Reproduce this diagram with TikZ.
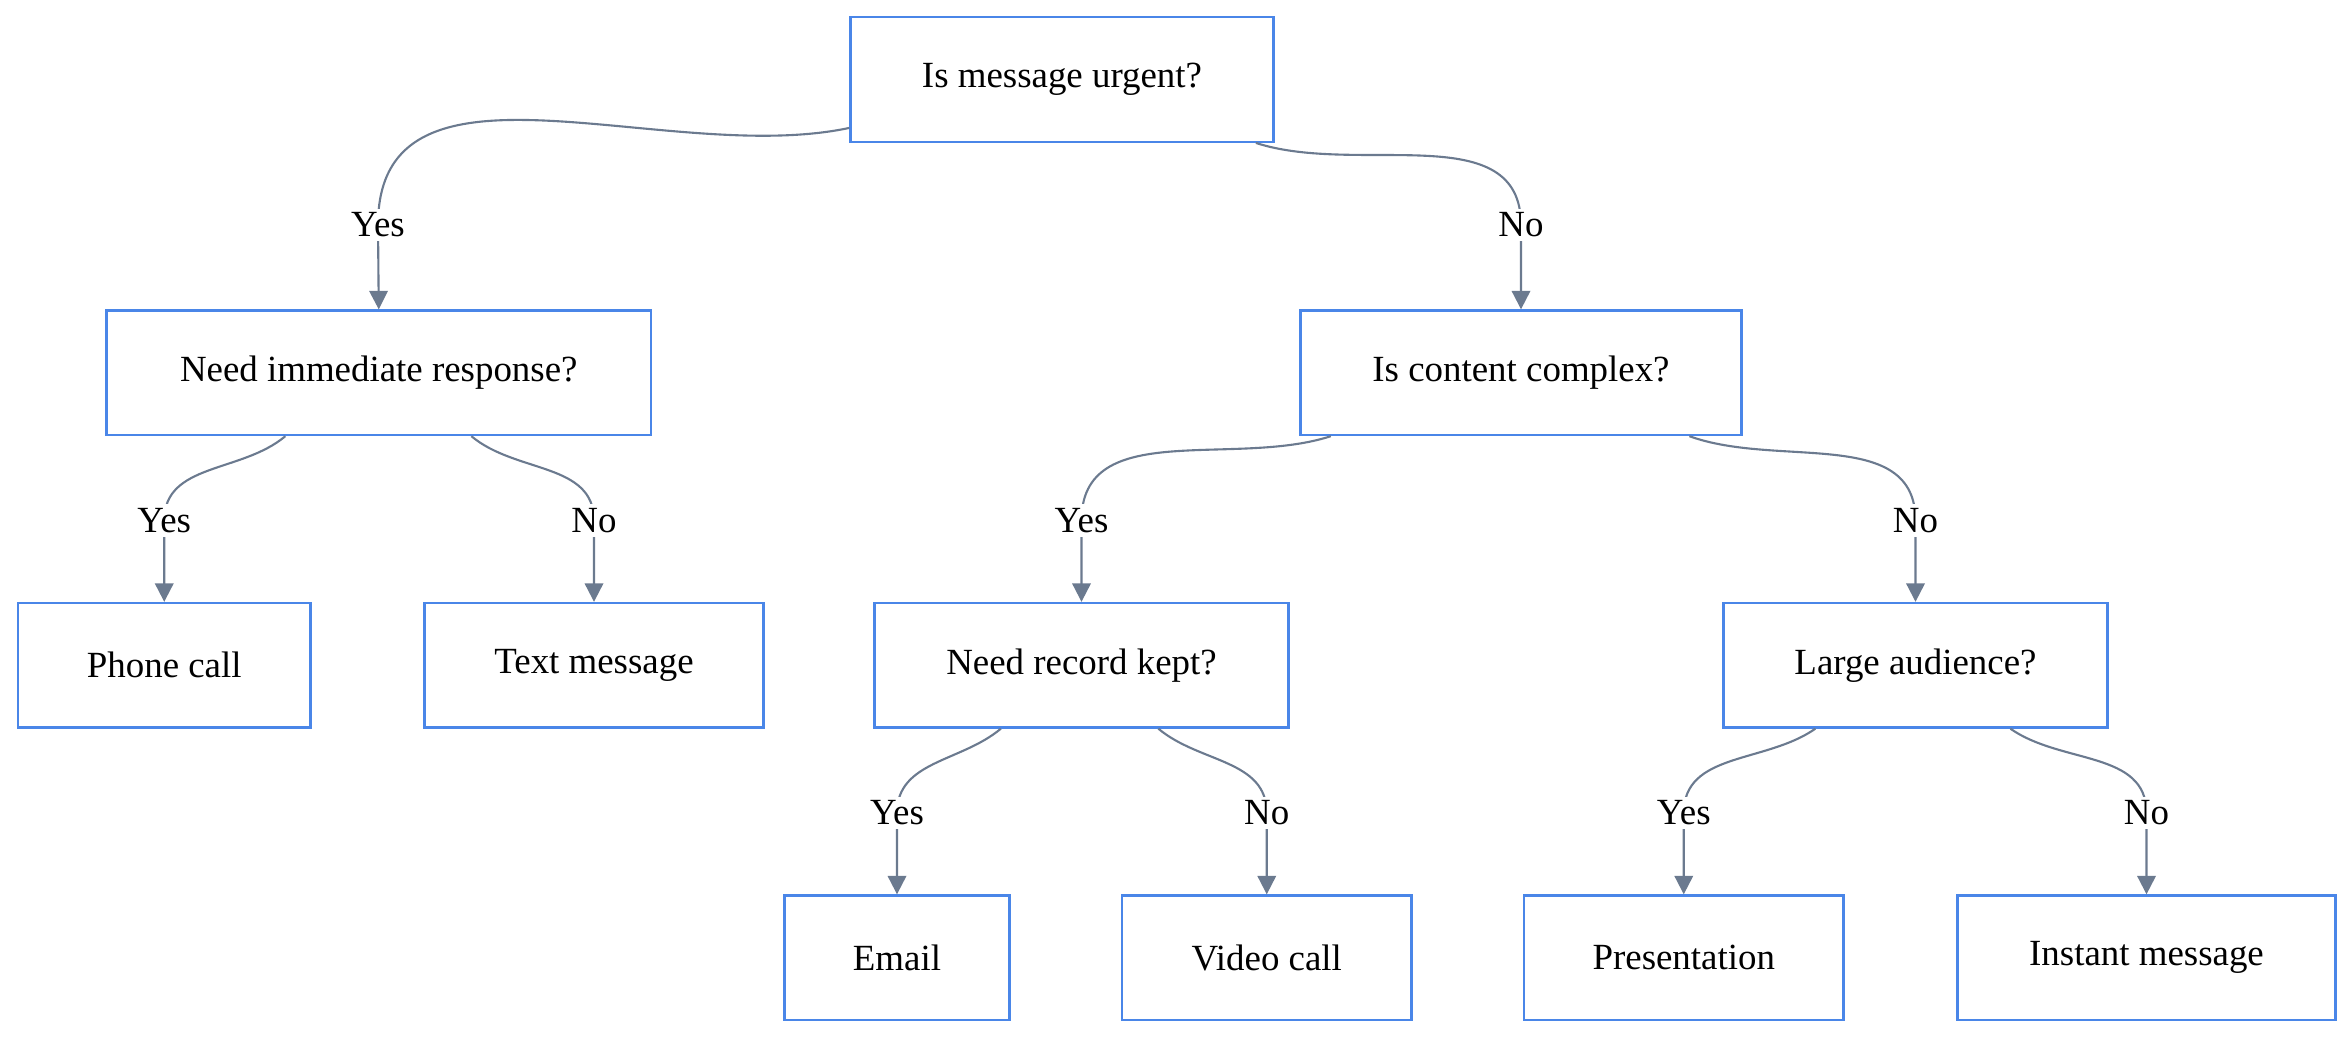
\documentclass[tikz,border=0pt]{standalone}
\usepackage{fontspec}
\setmainfont{Liberation Serif}
\usetikzlibrary{arrows.meta,calc}
\definecolor{boxblue}{HTML}{4A86E8}
\definecolor{edgegray}{HTML}{6B7A8F}
\tikzset{
        % Decision and outcome boxes
        box/.style={draw=boxblue, line width=0.9pt, fill=white, minimum height=1.66cm, font=\fontsize{14}{16}\selectfont},
        % Connectors
        edge/.style={draw=edgegray, line width=0.8pt, -{Triangle[length=7pt,width=7pt]}},
        % Yes / No labels
        lbl/.style={fill=white, inner sep=1.5pt, font=\fontsize{14}{16}\selectfont}
}
\begin{document}
\begin{tikzpicture}[x=0.02cm, y=-0.02cm]
    \useasboundingbox (0,0) rectangle (1568,692);
    % level 0
    \node[box, minimum width=5.64cm] (root) at (708,53) {Is message urgent?};
    % level 1
    \node[box, minimum width=7.26cm] (need) at (252.5,248.5) {Need immediate response?};
    \node[box, minimum width=5.88cm] (complex) at (1014,248.5) {Is content complex?};
    % level 2
    \node[box, minimum width=3.9cm] (phone) at (109.5,443.5) {Phone call};
    \node[box, minimum width=4.52cm] (text) at (396,443.5) {Text message};
    \node[box, minimum width=5.52cm] (record) at (721,443.5) {Need record kept?};
    \node[box, minimum width=5.12cm] (large) at (1277,443.5) {Large audience?};
    % level 3
    \node[box, minimum width=3cm] (email) at (598,638.5) {Email};
    \node[box, minimum width=3.86cm] (video) at (844.5,638.5) {Video call};
    \node[box, minimum width=4.26cm] (pres) at (1122.5,638.5) {Presentation};
    \node[box, minimum width=5.04cm] (instant) at (1431,638.5) {Instant message};

    % connectors
    \coordinate (rootY) at (252,150);
    \coordinate (rootN) at (1014,150);
    \draw[edge] ($(root.south west)+(0,-10)$) to[out=192,in=90] (rootY) node[lbl]{Yes} -- (need.north);
    \draw[edge] ($(root.south west)+(271,0)$) to[out=-18,in=90] (rootN) node[lbl]{No} -- (complex.north);

    \coordinate (needY) at (109.5,347);
    \coordinate (needN) at (396,347);
    \draw[edge] ($(need.south west)+(120,0)$) to[out=-140,in=90] (needY) node[lbl]{Yes} -- (phone.north);
    \draw[edge] ($(need.south west)+(244,0)$) to[out=-40,in=90] (needN) node[lbl]{No} -- (text.north);

    \coordinate (complexY) at (721,347);
    \coordinate (complexN) at (1277,347);
    \draw[edge] ($(complex.south west)+(21,0)$) to[out=-162,in=90] (complexY) node[lbl]{Yes} -- (record.north);
    \draw[edge] ($(complex.south west)+(260,0)$) to[out=-20,in=90] (complexN) node[lbl]{No} -- (large.north);

    \coordinate (recordY) at (598,542);
    \coordinate (recordN) at (844.5,542);
    \draw[edge] ($(record.south west)+(85,0)$) to[out=-140,in=90] (recordY) node[lbl]{Yes} -- (email.north);
    \draw[edge] ($(record.south west)+(190,0)$) to[out=-40,in=90] (recordN) node[lbl]{No} -- (video.north);

    \coordinate (largeY) at (1122.5,542);
    \coordinate (largeN) at (1431,542);
    \draw[edge] ($(large.south west)+(62,0)$) to[out=-145,in=90] (largeY) node[lbl]{Yes} -- (pres.north);
    \draw[edge] ($(large.south west)+(192,0)$) to[out=-35,in=90] (largeN) node[lbl]{No} -- (instant.north);
\end{tikzpicture}
\end{document}
